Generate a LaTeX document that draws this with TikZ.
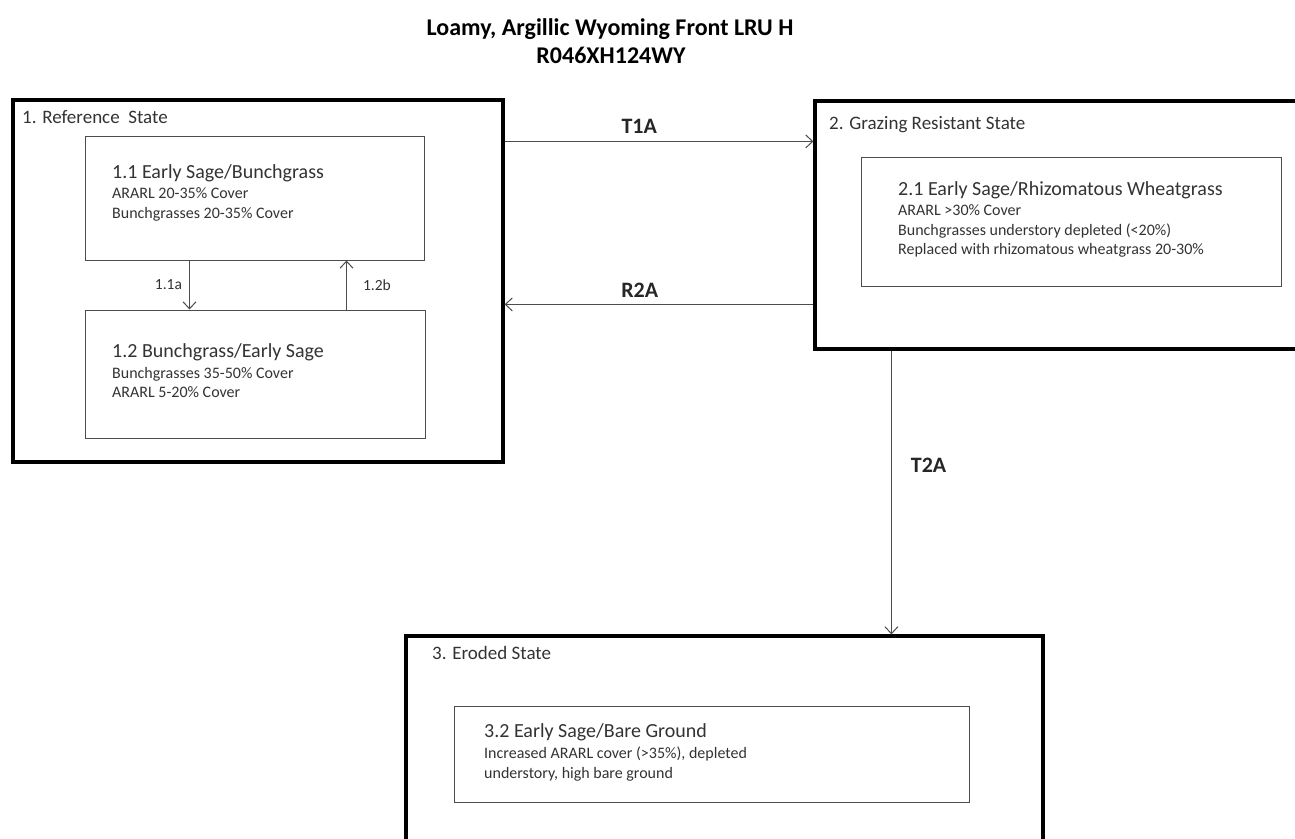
\documentclass[tikz,border=0pt]{standalone}
\usepackage{fontspec}
\setmainfont{Carlito}
\usepackage{tikz}
\usetikzlibrary{arrows.meta}

\begin{document}
\begin{tikzpicture}[x=1pt,y=-1pt,
    state/.style={draw=black,line width=3.2pt,inner sep=0pt},
    phase/.style={draw=black!70,line width=1pt,inner sep=0pt},
    txt/.style={anchor=base west,inner sep=0pt,text=black!80},
    statename/.style={txt,font=\fontsize{19}{22}\selectfont},
    phasename/.style={txt,font=\fontsize{20}{24}\selectfont},
    info/.style={txt,font=\fontsize{16}{19}\selectfont},
    trans/.style={inner sep=0pt,text=black!85,font=\bfseries\fontsize{22}{26}\selectfont},
    small/.style={inner sep=0pt,text=black!80,font=\fontsize{15.5}{18}\selectfont},
    link/.style={draw=black!70,line width=1pt,arrows={-Straight Barb[length=7pt,width=13pt]}}]
  \useasboundingbox (0,0) rectangle (1295,838);
  \fill[white] (0,0) rectangle (1295,838);
  \clip (0,0) rectangle (1295,838);

  % title
  \draw (610,35) node[anchor=base,inner sep=0pt,font=\bfseries\fontsize{24}{28}\selectfont] (title) {Loamy, Argillic Wyoming Front LRU H};
  \draw (611,63) node[anchor=base,inner sep=0pt,font=\bfseries\fontsize{24}{28}\selectfont] (code) {R046XH124WY};

  % state boxes
  \draw (258,281) node[state,minimum width=490pt,minimum height=362pt] (ref) {};
  \draw (1070,225) node[state,minimum width=510pt,minimum height=248pt] (graz) {};
  \draw (724.5,760) node[state,minimum width=637pt,minimum height=248pt] (eroded) {};

  \draw (22,123) node[statename] (refname) {1. Reference\ \ State};
  \draw (829,129) node[statename] (grazname) {2. Grazing Resistant State};
  \draw (432,659) node[statename] (erodedname) {3. Eroded State};

  % community phases
  \draw (254.5,198) node[phase,minimum width=339pt,minimum height=124pt] (early) {};
  \draw (255,374) node[phase,minimum width=340pt,minimum height=128pt] (bunch) {};
  \draw (1071,221.5) node[phase,minimum width=420pt,minimum height=129pt] (rhizo) {};
  \draw (711.5,754) node[phase,minimum width=515pt,minimum height=96pt] (bare) {};

  \draw (112,178) node[phasename] (earlyname) {1.1 Early Sage/Bunchgrass};
  \draw (112,198) node[info] (early1) {ARARL 20-35\% Cover};
  \draw (112,218) node[info] (early2) {Bunchgrasses 20-35\% Cover};

  \draw (112,357) node[phasename] (bunchname) {1.2 Bunchgrass/Early Sage};
  \draw (112,378) node[info] (bunch1) {Bunchgrasses 35-50\% Cover};
  \draw (112,397) node[info] (bunch2) {ARARL 5-20\% Cover};

  \draw (898,195) node[phasename] (rhizoname) {2.1 Early Sage/Rhizomatous Wheatgrass};
  \draw (898,215) node[info] (rhizo1) {ARARL >30\% Cover};
  \draw (898,235) node[info] (rhizo2) {Bunchgrasses understory depleted (<20\%)};
  \draw (898,254) node[info] (rhizo3) {Replaced with rhizomatous wheatgrass 20-30\%};

  \draw (484,737) node[phasename] (barename) {3.2 Early Sage/Bare Ground};
  \draw (484,758) node[info] (bare1) {Increased ARARL cover (>35\%), depleted};
  \draw (484,778) node[info] (bare2) {understory, high bare ground};

  % pathways
  \draw[link] ([xshift=105pt]early.south west) -- node[small,left=7pt] (p11a) {1.1a} ([xshift=105pt]bunch.north west);
  \draw[link] ([xshift=262pt]bunch.north west) -- node[small,right=16pt] (p12b) {1.2b} ([xshift=262pt]early.south west);

  % transitions
  \draw[link] ([yshift=-43pt]ref.north east) -- node[trans,pos=0.436,above=7pt] (t1a) {T1A} ([yshift=-42pt]graz.north west);
  \draw[link] ([yshift=-205pt]graz.north west) -- node[trans,pos=0.5625,above=6pt] (r2a) {R2A} ([yshift=-206pt]ref.north east);
  \draw[link] ([xshift=78pt]graz.south west) -- node[trans,pos=0.404,right=19pt] (t2a) {T2A} ([xshift=487pt]eroded.north west);
\end{tikzpicture}
\end{document}
